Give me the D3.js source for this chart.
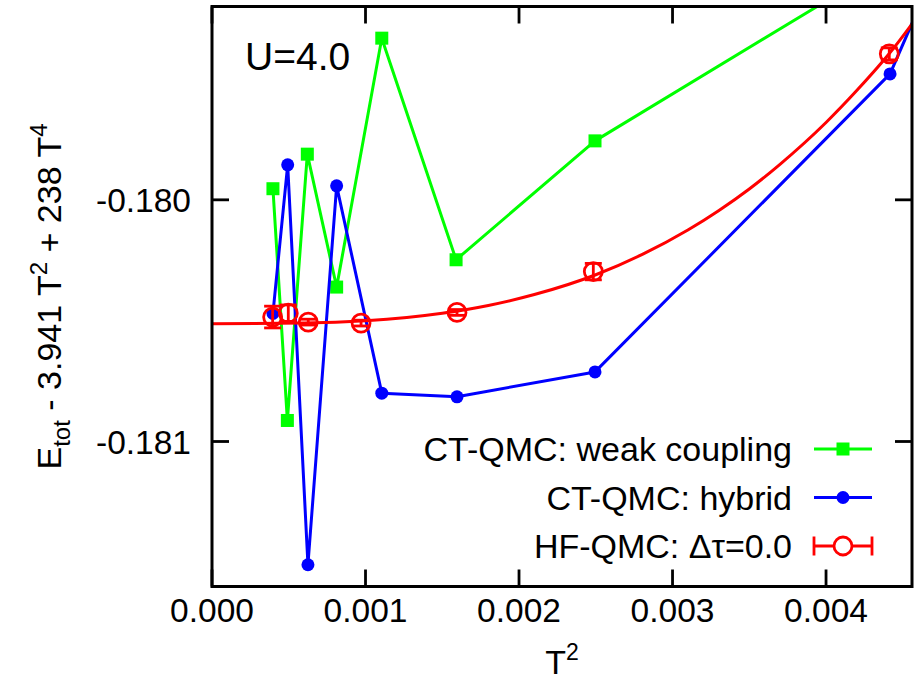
<!DOCTYPE html>
<html>
<head>
<meta charset="utf-8">
<script src="https://cdn.jsdelivr.net/npm/d3@7"></script>
<style>
  html, body { margin: 0; padding: 0; background: #fff; }
  svg { display: block; font-family: "Liberation Sans", Arial, Helvetica, sans-serif; }
</style>
</head>
<body>
<svg id="chart" width="923" height="685"></svg>
<script>
// Tick positions and labels
const xTicks = [0, 0.001, 0.002, 0.003, 0.004];
const xTickLabels = ["0.000", "0.001", "0.002", "0.003", "0.004"];
const yTicks = [-0.181, -0.180];
const yTickLabels = ["-0.181", "-0.180"];

// CT-QMC weak coupling (T^2, energy)
const weakT2 = [0.000397, 0.000491, 0.000621, 0.000812, 0.001106, 0.001590, 0.002495, 0.00441];
const weakE  = [-0.179954, -0.180913, -0.179811, -0.180361, -0.179331, -0.180248, -0.179756, -0.17902];

// CT-QMC hybrid
const hybT2 = [0.000397, 0.000493, 0.000625, 0.000812, 0.001106, 0.001596, 0.002495, 0.004417, 0.0051];
const hybE  = [-0.180470, -0.179855, -0.181510, -0.179942, -0.180800, -0.180815, -0.180712, -0.179479, -0.17848];

// HF-QMC extrapolated to zero time step, with error bars
const hfT2  = [0.000395, 0.000497, 0.000627, 0.000971, 0.001596, 0.002484, 0.004412];
const hfE   = [-0.180485, -0.180469, -0.180506, -0.180510, -0.180466, -0.180297, -0.179396];
const hfErr = [0.000045, 0.000034, 0.000012, 0.000012, 0.000012, 0.000034, 0.000025];

// Fit curve through the HF-QMC points, sampled
const fitT2 = [0, 0.0006, 0.0010, 0.0015, 0.0018, 0.0021, 0.0025, 0.0028, 0.0031, 0.0033, 0.0035, 0.0037, 0.0040, 0.0042, 0.0044, 0.0047];
const fitE  = [-0.180513, -0.180510, -0.180500, -0.180469, -0.180437, -0.180392, -0.180310, -0.180227, -0.180125, -0.180045, -0.179955, -0.179853, -0.179680, -0.179548, -0.179404, -0.179150];

const seriesNames = ["CT-QMC: weak coupling", "CT-QMC: hybrid", "HF-QMC: \u0394\u03c4=0.0"];
const colors = ["#00ff00", "#0000ff", "#ff0000"];

const svg = d3.select("#chart");
const L = 212, R = 912, T = 6.5, B = 586.5;

const x = d3.scaleLinear().domain([0, 0.00456]).range([L, R]);
const y = d3.scaleLinear().domain([-0.1816, -0.1792]).range([B, T]);

svg.append("defs").append("clipPath").attr("id", "plotclip")
  .append("rect").attr("x", L).attr("y", T).attr("width", R - L).attr("height", B - T);

const plot = svg.append("g").attr("clip-path", "url(#plotclip)");
const line = d3.line().x(d => x(d[0])).y(d => y(d[1]));
const lw = 3;

// weak coupling
const weak = weakT2.map((v, i) => [v, weakE[i]]);
plot.append("path").attr("d", line(weak)).attr("fill", "none")
  .attr("stroke", colors[0]).attr("stroke-width", lw).attr("stroke-linejoin", "round");
plot.selectAll(".sq").data(weak).enter().append("rect")
  .attr("x", d => x(d[0]) - 6.5).attr("y", d => y(d[1]) - 6.5)
  .attr("width", 13).attr("height", 13).attr("fill", colors[0]);

// hybrid
const hyb = hybT2.map((v, i) => [v, hybE[i]]);
plot.append("path").attr("d", line(hyb)).attr("fill", "none")
  .attr("stroke", colors[1]).attr("stroke-width", lw).attr("stroke-linejoin", "round");
plot.selectAll(".dot").data(hyb).enter().append("circle")
  .attr("cx", d => x(d[0])).attr("cy", d => y(d[1])).attr("r", 6.5).attr("fill", colors[1]);

// HF-QMC fit curve
const fit = fitT2.map((v, i) => [v, fitE[i]]);
plot.append("path").attr("d", d3.line().x(d => x(d[0])).y(d => y(d[1])).curve(d3.curveMonotoneX)(fit))
  .attr("fill", "none").attr("stroke", colors[2]).attr("stroke-width", lw);

// HF-QMC points with error bars
const hf = hfT2.map((v, i) => [v, hfE[i], hfErr[i]]);
const hfG = plot.selectAll(".hf").data(hf).enter().append("g")
  .attr("stroke", colors[2]).attr("stroke-width", 2.8).attr("fill", "none");
hfG.append("line").attr("x1", d => x(d[0])).attr("x2", d => x(d[0]))
  .attr("y1", d => y(d[1] - d[2])).attr("y2", d => y(d[1] + d[2]));
hfG.append("line").attr("x1", d => x(d[0]) - 8.5).attr("x2", d => x(d[0]) + 8.5)
  .attr("y1", d => y(d[1] - d[2])).attr("y2", d => y(d[1] - d[2]));
hfG.append("line").attr("x1", d => x(d[0]) - 8.5).attr("x2", d => x(d[0]) + 8.5)
  .attr("y1", d => y(d[1] + d[2])).attr("y2", d => y(d[1] + d[2]));
hfG.append("circle").attr("cx", d => x(d[0])).attr("cy", d => y(d[1])).attr("r", 9);

// frame and ticks on all four sides
const axisG = svg.append("g").attr("stroke", "#000").attr("stroke-width", 2.8);
const tickLen = 17;
xTicks.forEach(t => {
  axisG.append("line").attr("x1", x(t)).attr("x2", x(t)).attr("y1", B).attr("y2", B - tickLen);
  axisG.append("line").attr("x1", x(t)).attr("x2", x(t)).attr("y1", T).attr("y2", T + tickLen);
});
yTicks.forEach(t => {
  axisG.append("line").attr("x1", L).attr("x2", L + tickLen).attr("y1", y(t)).attr("y2", y(t));
  axisG.append("line").attr("x1", R).attr("x2", R - tickLen).attr("y1", y(t)).attr("y2", y(t));
});
axisG.append("rect").attr("x", L).attr("y", T).attr("width", R - L).attr("height", B - T)
  .attr("fill", "none").attr("stroke-width", 3);

// tick labels
const fs = 33.5;
svg.selectAll(".xl").data(xTicks).enter().append("text")
  .attr("x", d => x(d)).attr("y", 622).attr("text-anchor", "middle")
  .attr("font-size", fs).text((d, i) => xTickLabels[i]);
svg.selectAll(".yl").data(yTicks).enter().append("text")
  .attr("x", 191).attr("y", d => y(d) + 12).attr("text-anchor", "end")
  .attr("font-size", fs).text((d, i) => yTickLabels[i]);

// axis titles
const xt = svg.append("text").attr("x", (L + R) / 2).attr("y", 674).attr("text-anchor", "middle")
  .attr("font-size", 34);
xt.append("tspan").text("T");
xt.append("tspan").attr("dy", -14).attr("font-size", 23).text("2");

const yt = svg.append("text").attr("transform", `translate(61,${(T + B) / 2}) rotate(-90)`)
  .attr("text-anchor", "middle").attr("font-size", 34);
yt.append("tspan").text("E");
yt.append("tspan").attr("dy", 9).attr("font-size", 24).text("tot");
yt.append("tspan").attr("dy", -9).text(" - 3.941 T");
yt.append("tspan").attr("dy", -14).attr("font-size", 24).text("2");
yt.append("tspan").attr("dy", 14).text(" + 238 T");
yt.append("tspan").attr("dy", -14).attr("font-size", 24).text("4");

// annotation
svg.append("text").attr("x", 245).attr("y", 69.5).attr("font-size", 39).text("U=4.0");

// legend
const legY = [449, 497.5, 546];
const lx1 = 814, lx2 = 872, lxm = 843;
seriesNames.forEach((name, i) => {
  svg.append("text").attr("x", 792).attr("y", legY[i] + 12).attr("text-anchor", "end")
    .attr("font-size", 34).text(name);
});
svg.append("line").attr("x1", lx1).attr("x2", lx2).attr("y1", legY[0]).attr("y2", legY[0])
  .attr("stroke", colors[0]).attr("stroke-width", lw);
svg.append("rect").attr("x", lxm - 6.5).attr("y", legY[0] - 6.5).attr("width", 13).attr("height", 13).attr("fill", colors[0]);
svg.append("line").attr("x1", lx1).attr("x2", lx2).attr("y1", legY[1]).attr("y2", legY[1])
  .attr("stroke", colors[1]).attr("stroke-width", lw);
svg.append("circle").attr("cx", lxm).attr("cy", legY[1]).attr("r", 6.5).attr("fill", colors[1]);
const lg = svg.append("g").attr("stroke", colors[2]).attr("stroke-width", 2.8).attr("fill", "none");
lg.append("line").attr("x1", lx1).attr("x2", lx2).attr("y1", legY[2]).attr("y2", legY[2]);
lg.append("line").attr("x1", lx1).attr("x2", lx1).attr("y1", legY[2] - 9.5).attr("y2", legY[2] + 9.5);
lg.append("line").attr("x1", lx2).attr("x2", lx2).attr("y1", legY[2] - 9.5).attr("y2", legY[2] + 9.5);
lg.append("circle").attr("cx", lxm).attr("cy", legY[2]).attr("r", 9).attr("fill", "#fff");
</script>
</body>
</html>
